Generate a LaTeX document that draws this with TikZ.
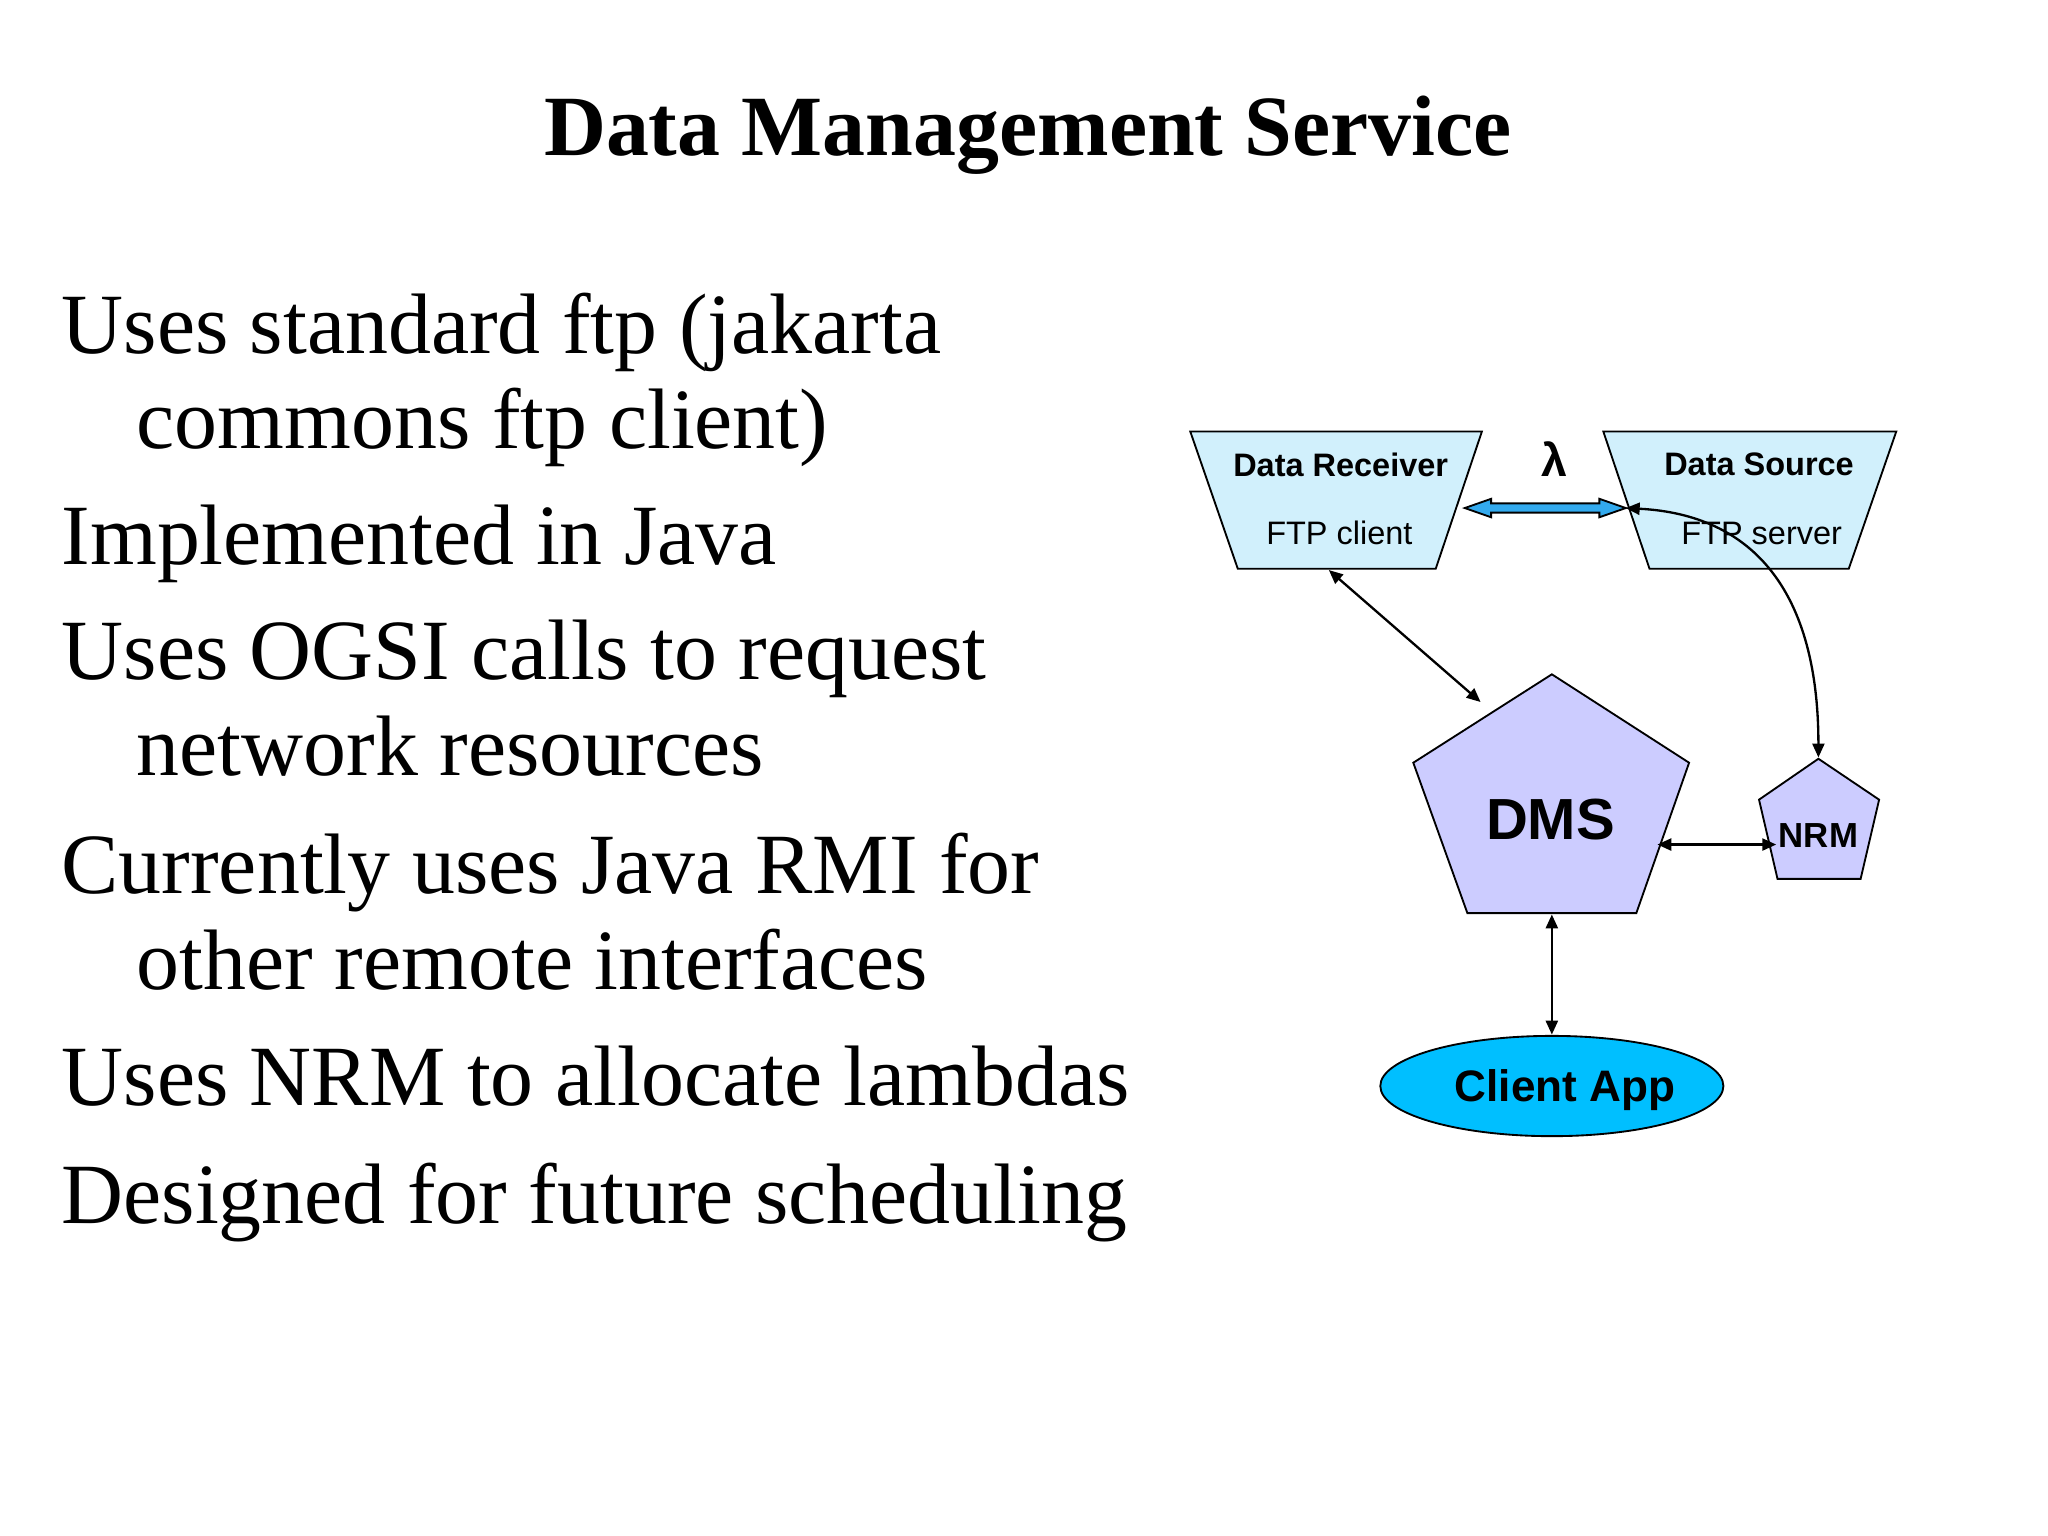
\documentclass[tikz,border=0pt]{standalone}
\usepackage{fontspec}
\setmainfont{Liberation Serif}
\newfontfamily\sansf{Liberation Sans}
\usetikzlibrary{arrows.meta}
\begin{document}
\begin{tikzpicture}[x=0.01cm,y=-0.01cm,
  body/.style={anchor=base west,inner sep=0pt,font=\fontsize{18.5}{20}\selectfont},
  lbl/.style={inner sep=0pt,font=\sansf\fontsize{7}{8}\selectfont},
  trap/.style={draw=black,fill=cyan!18,line width=0.4pt},
  pent/.style={draw=black,fill={rgb,255:red,204;green,204;blue,255},line width=0.4pt},
  con/.style={line width=0.5pt,{Triangle[length=3pt,width=2.6pt]}-{Triangle[length=3pt,width=2.6pt]}}]
\useasboundingbox (0,0) rectangle (1552,1164);
\fill[white] (0,0) rectangle (1552,1164);
\node[anchor=base,inner sep=0pt,font=\bfseries\fontsize{18.5}{20}\selectfont] (title) at (779,118) {Data Management Service};
\node[body] (l1) at (46,268) {Uses standard ftp (jakarta};
\node[body] (l2) at (103,340) {commons ftp client)};
\node[body] (l3) at (46,428) {Implemented in Java};
\node[body] (l4) at (46,515) {Uses OGSI calls to request};
\node[body] (l5) at (103,588) {network resources};
\node[body] (l6) at (46,677) {Currently uses Java RMI for};
\node[body] (l7) at (103,750) {other remote interfaces};
\node[body] (l8) at (46,838) {Uses NRM to allocate lambdas};
\node[body] (l9) at (46,927) {Designed for future scheduling};
% shapes
\draw[trap] (902,327) -- (1123,327) -- (1088,431) -- (938,431) -- cycle;
\draw[trap] (1215,327) -- (1437,327) -- (1401,431) -- (1250,431) -- cycle;
\draw[pent] (1176,511) -- (1280,578) -- (1240,692) -- (1112,692) -- (1071,578) -- cycle;
\draw[pent] (1378,575) -- (1424,606) -- (1410,666) -- (1347,666) -- (1333,606) -- cycle;
\draw[fill={rgb,255:red,0;green,191;blue,255},line width=0.4pt] (1176,823) ellipse [x radius=130,y radius=38];
\node[lbl,font=\sansf\bfseries\fontsize{7}{8}\selectfont] (drt) at (1016,352) {Data Receiver};
\node[lbl] (drb) at (1015,404) {FTP client};
\node[lbl,font=\sansf\bfseries\fontsize{7}{8}\selectfont] (dst) at (1333,352) {Data Source};
\node[lbl] (dsb) at (1335,404) {FTP server};
\node[lbl,font=\sansf\bfseries\fontsize{10}{12}\selectfont] (lam) at (1178,348) {λ};
\node[lbl,font=\sansf\bfseries\fontsize{12.5}{14}\selectfont] (dms) at (1175,621) {DMS};
\node[lbl,font=\sansf\bfseries\fontsize{7.5}{9}\selectfont] (nrm) at (1378,633) {NRM};
\node[lbl,font=\sansf\bfseries\fontsize{9.5}{11}\selectfont] (app) at (1186,826) {Client App};
% connector points
\coordinate (recB) at (1007,432);
\coordinate (dmsUL) at (1122,532);
\coordinate (dmsB) at (1176,693);
\coordinate (appT) at (1176,784);
\coordinate (dmsR) at (1256,640);
\coordinate (nrmL) at (1346,640);
\coordinate (nrmT) at (1378,574);
\coordinate (lamL) at (1110,385);
\coordinate (lamR) at (1232,385);
\draw[con] (recB) -- (dmsUL);
\draw[con] (dmsB) -- (appT);
\draw[con] (dmsR) -- (nrmL);
\draw[con] (lamR) .. controls (1330,390) and (1378,450) .. (nrmT);
\draw[line width=0.4pt,fill={rgb,255:red,51;green,170;blue,238}]
  (lamL) -- (1130,378) -- (1130,381.5) -- (1212,381.5) -- (1212,378) -- (lamR)
  -- (1212,392) -- (1212,388.5) -- (1130,388.5) -- (1130,392) -- cycle;
\end{tikzpicture}
\end{document}
